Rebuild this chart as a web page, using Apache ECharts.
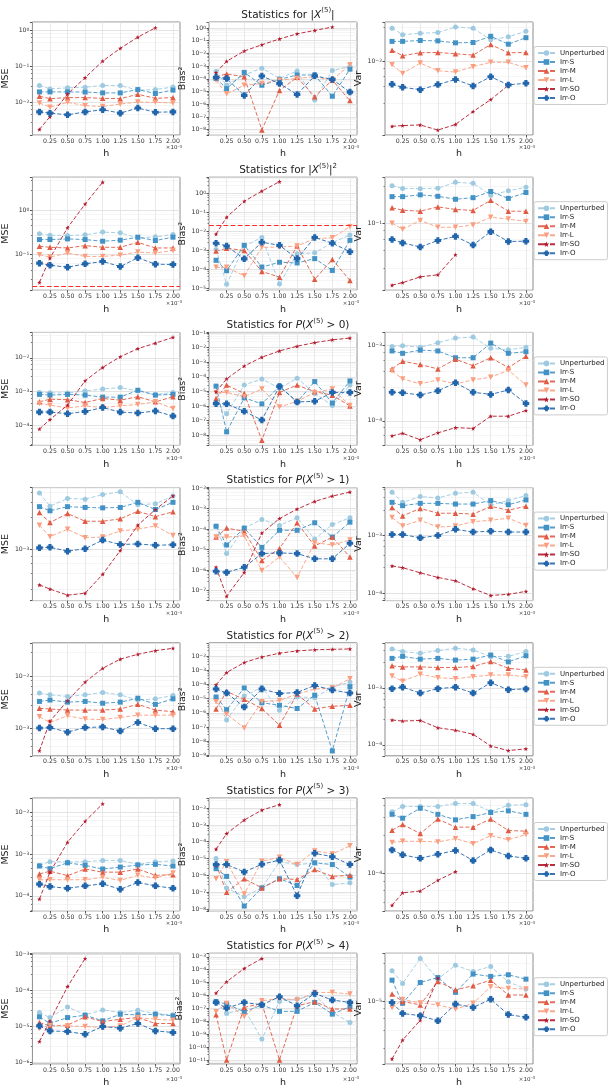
<!DOCTYPE html>
<html>
<head>
<meta charset="utf-8">
<script src="https://cdn.jsdelivr.net/npm/echarts@6/dist/echarts.min.js"></script>
<style>
  html, body { margin: 0; padding: 0; background: #fff; }
  #main { width: 611px; height: 1089px; }
</style>
</head>
<body>
<div id="main"></div>
<script>
// step sizes h (x 1e-3)
var hValues = [0.1, 0.25, 0.5, 0.75, 1.0, 1.25, 1.5, 1.75, 2.0];
var methods = ['Unperturbed', 'Irr-S', 'Irr-M', 'Irr-L', 'Irr-SO', 'Irr-O'];
var xTicks = [0.25, 0.5, 0.75, 1.0, 1.25, 1.5, 1.75, 2.0];

// row titles (rich text)
var rowTitles = [
    'Statistics for |{i|X}{s|(5)}|',
    'Statistics for |{i|X}{s|(5)}|{s|2}',
    'Statistics for {i|P}({i|X}{s|(5)} > 0)',
    'Statistics for {i|P}({i|X}{s|(5)} > 1)',
    'Statistics for {i|P}({i|X}{s|(5)} > 2)',
    'Statistics for {i|P}({i|X}{s|(5)} > 3)',
    'Statistics for {i|P}({i|X}{s|(5)} > 4)'
];

// reference levels (red dashed lines) for MSE and Bias^2 panels
var mseRef = [1.84e-3, 0.0219, 3.7e-5, 3.3e-4, 3.9e-4, 5.4e-5, 1.21e-6];
var biasRef = [1.75e-3, 0.0219, 3.4e-5, 3.4e-4, 4.1e-4, 5.2e-5, 1.14e-6];

// each panel: one list per method, in the order of `methods`
var mse1 = [
    [0.029, 0.0233, 0.0249, 0.026, 0.029, 0.029, 0.0214, 0.0225, 0.0262],
    [0.0192, 0.0192, 0.0192, 0.019, 0.018, 0.018, 0.0223, 0.0173, 0.0215],
    [0.0145, 0.0124, 0.0133, 0.0133, 0.0127, 0.0124, 0.0165, 0.0127, 0.0133],
    [0.0094, 0.0072, 0.0098, 0.0079, 0.0075, 0.0088, 0.010, 0.0098, 0.0094],
    [0.00172, 0.0039, 0.0168, 0.048, 0.139, 0.316, 0.647, 1.19],
    [0.0053, 0.0049, 0.0044, 0.0053, 0.0061, 0.0049, 0.0068, 0.0052, 0.0053]
];
var bias1 = [
    [3.7e-4, 3.1e-5, 2e-4, 6.9e-4, 1.07e-4, 4.2e-4, 2.1e-6, 4.5e-4, 9.4e-4],
    [1.07e-4, 1.66e-5, 3.2e-4, 3.1e-5, 8.9e-5, 2e-4, 2e-4, 4.2e-6, 5.7e-4],
    [1.45e-4, 2.4e-4, 1.45e-4, 9.3e-9, 1.2e-5, 1.3e-4, 3.9e-6, 7.8e-5, 1.9e-6],
    [7.8e-5, 6.5e-6, 3.1e-5, 4.2e-5, 7.8e-5, 1.07e-4, 1.45e-4, 7.8e-5, 1.3e-3],
    [3.1e-4, 2.4e-3, 0.0155, 0.048, 0.138, 0.35, 0.65, 1.2],
    [1.3e-4, 1.07e-4, 4.8e-6, 1.65e-4, 4.2e-5, 5.8e-6, 1.7e-4, 8.9e-5, 8.9e-6]
];
var var1 = [
    [0.0276, 0.0226, 0.0236, 0.0241, 0.0285, 0.0276, 0.0193, 0.0212, 0.0251],
    [0.0184, 0.0184, 0.0189, 0.0187, 0.0176, 0.0178, 0.0215, 0.0169, 0.0206],
    [0.014, 0.0119, 0.013, 0.0131, 0.0126, 0.0121, 0.0167, 0.013, 0.0131],
    [0.009, 0.0069, 0.0095, 0.0075, 0.0072, 0.0085, 0.0097, 0.0097, 0.0082],
    [1.37e-3, 1.4e-3, 1.43e-3, 1.22e-3, 1.45e-3, 2.15e-3, 3.1e-3, 4.8e-3],
    [0.00496, 0.00452, 0.0042, 0.00491, 0.00574, 0.00471, 0.00624, 0.00486, 0.00512]
];

var mse2 = [
    [0.295, 0.275, 0.27, 0.28, 0.322, 0.31, 0.239, 0.252, 0.285],
    [0.219, 0.219, 0.227, 0.219, 0.201, 0.212, 0.248, 0.208, 0.248],
    [0.155, 0.147, 0.142, 0.16, 0.147, 0.147, 0.19, 0.142, 0.142],
    [0.1, 0.0886, 0.109, 0.0917, 0.0917, 0.098, 0.115, 0.109, 0.125],
    [0.0239, 0.084, 0.404, 1.37, 4.25],
    [0.0647, 0.0582, 0.0525, 0.0624, 0.0705, 0.0543, 0.0855, 0.0614, 0.0603]
];
var bias2 = [
    [1.13e-3, 1.64e-5, 1.7e-3, 4.8e-3, 1.7e-5, 6.6e-4, 7.5e-4, 2.6e-3, 6.4e-3],
    [3e-4, 8.5e-5, 1.85e-3, 1.33e-4, 2.37e-4, 2.18e-4, 3.7e-4, 8.8e-5, 3.4e-3],
    [9.2e-4, 1.28e-3, 1e-3, 7.8e-5, 3.9e-5, 1.7e-3, 3e-5, 3.3e-4, 2.6e-5],
    [1.28e-4, 1.28e-4, 4.6e-5, 1.45e-3, 1.5e-3, 1.7e-3, 4.2e-3, 4.6e-3, 0.0178],
    [7.2e-3, 0.056, 0.39, 1.33, 4.2],
    [2.4e-3, 1.7e-3, 3.6e-4, 2.7e-3, 1.85e-3, 3.7e-4, 4.8e-3, 2.4e-3, 8.5e-4]
];
var var2 = [
    [0.287, 0.266, 0.264, 0.268, 0.316, 0.307, 0.22, 0.249, 0.274],
    [0.211, 0.211, 0.222, 0.213, 0.196, 0.205, 0.244, 0.201, 0.237],
    [0.154, 0.144, 0.14, 0.158, 0.147, 0.143, 0.19, 0.14, 0.14],
    [0.1, 0.084, 0.108, 0.089, 0.089, 0.095, 0.118, 0.112, 0.105],
    [0.0174, 0.0187, 0.022, 0.0233, 0.041],
    [0.063, 0.0573, 0.051, 0.0613, 0.0688, 0.054, 0.0787, 0.0596, 0.0601]
];

var mse3 = [
    [9.5e-4, 9.3e-4, 9.1e-4, 1.05e-3, 1.2e-3, 1.32e-3, 1.05e-3, 8.3e-4, 9.5e-4],
    [8.3e-4, 7.9e-4, 8.3e-4, 7.9e-4, 6.9e-4, 6.9e-4, 1.1e-3, 7.9e-4, 8.3e-4],
    [5e-4, 6e-4, 5.8e-4, 4.8e-4, 6.3e-4, 5.6e-4, 7.1e-4, 5e-4, 7.1e-4],
    [4.5e-4, 4e-4, 3.3e-4, 3.8e-4, 3.4e-4, 3.8e-4, 4.2e-4, 5e-4, 3.2e-4],
    [7.9e-5, 1.5e-4, 4e-4, 2.1e-3, 5.2e-3, 0.0107, 0.0186, 0.027, 0.04],
    [2.5e-4, 2.5e-4, 2.24e-4, 2.6e-4, 3.4e-4, 2.5e-4, 2.34e-4, 2.7e-4, 1.9e-4]
];
var bias3 = [
    [1.9e-6, 2.9e-7, 2.7e-5, 7.2e-5, 1.6e-5, 8.1e-5, 7.2e-6, 1.1e-6, 2.7e-5],
    [2.3e-5, 1.7e-8, 3.6e-6, 1.4e-6, 2.3e-5, 1.9e-6, 4.7e-5, 1.6e-6, 5.2e-5],
    [3.2e-6, 2.7e-5, 7.2e-6, 4.5e-9, 8.5e-6, 2.7e-5, 9.5e-6, 5.5e-6, 1e-6],
    [8.5e-6, 8.5e-6, 4.3e-6, 1.45e-5, 8.5e-7, 2.1e-6, 8.5e-6, 1.45e-5, 1.1e-6],
    [9.5e-6, 7.2e-5, 5.5e-4, 2.2e-3, 5.9e-3, 0.0124, 0.022, 0.034, 0.045],
    [1.45e-6, 1.4e-6, 4.3e-7, 1.1e-7, 2.2e-5, 1.9e-6, 2.1e-6, 8.5e-6, 8.5e-6]
];
var var3 = [
    [9.7e-4, 1e-3, 9.5e-4, 1.09e-3, 1.26e-3, 1.3e-3, 9.2e-4, 8.8e-4, 9.5e-4],
    [8.5e-4, 7.9e-4, 8.7e-4, 8.5e-4, 6.9e-4, 6.9e-4, 1.08e-3, 7.9e-4, 8.3e-4],
    [4.9e-4, 6.2e-4, 5.6e-4, 4.9e-4, 6.6e-4, 5.4e-4, 6.9e-4, 5.1e-4, 7.2e-4],
    [4.6e-4, 3.6e-4, 3.1e-4, 3.5e-4, 3.1e-4, 3.5e-4, 3.8e-4, 4.7e-4, 3e-4],
    [6.3e-5, 6.8e-5, 5.6e-5, 6.9e-5, 8.1e-5, 7.9e-5, 1.15e-4, 1.15e-4, 1.37e-4],
    [2.4e-4, 2.36e-4, 2.2e-4, 2.5e-4, 3.2e-4, 2.4e-4, 2.24e-4, 2.57e-4, 1.7e-4]
];

var mse4 = [
    [6.2e-3, 4.07e-3, 5.2e-3, 5.1e-3, 5.9e-3, 6.45e-3, 4.25e-3, 4.4e-3, 5.65e-3],
    [4.0e-3, 3.5e-3, 4.0e-3, 3.9e-3, 3.85e-3, 3.9e-3, 4.6e-3, 3.65e-3, 4.6e-3],
    [3.3e-3, 2.4e-3, 3.2e-3, 2.5e-3, 2.5e-3, 2.7e-3, 3.45e-3, 2.9e-3, 3.4e-3],
    [2.2e-3, 1.52e-3, 1.93e-3, 1.47e-3, 1.5e-3, 1.83e-3, 1.93e-3, 2.15e-3, 1.58e-3],
    [3.2e-4, 2.8e-4, 2.3e-4, 2.45e-4, 4.5e-4, 9.7e-4, 2.2e-3, 3.65e-3, 5.65e-3],
    [1.06e-3, 1.08e-3, 9.5e-4, 1.03e-3, 1.36e-3, 1.18e-3, 1.2e-3, 1.15e-3, 1.17e-3]
];
var bias4 = [
    [1.36e-4, 6.3e-6, 1.1e-4, 2.9e-4, 1.47e-4, 3.5e-4, 3.2e-5, 1.65e-4, 3.5e-4],
    [1.36e-4, 1.65e-5, 1.1e-4, 1.26e-5, 8.6e-5, 8.6e-5, 2e-4, 4e-5, 2.15e-4],
    [4e-5, 1.1e-4, 7.6e-5, 2.9e-6, 1.1e-5, 2e-4, 1.47e-5, 4e-5, 4.3e-6],
    [4e-5, 4e-5, 4.6e-5, 9.3e-7, 4.3e-6, 4.3e-7, 2.15e-5, 1.65e-5, 2.9e-5],
    [1.36e-6, 5.2e-8, 7.6e-7, 6.3e-5, 3.2e-4, 9.3e-4, 2.2e-3, 4e-3, 6.3e-3],
    [8.6e-7, 7.6e-7, 1.36e-6, 6.3e-6, 6.8e-6, 6.3e-6, 3.5e-6, 3.5e-6, 2e-5]
];
var var4 = [
    [5.66e-3, 3.77e-3, 4.74e-3, 4.5e-3, 5.4e-3, 5.66e-3, 3.38e-3, 4.04e-3, 4.94e-3],
    [3.77e-3, 3.3e-3, 3.62e-3, 3.62e-3, 3.52e-3, 3.52e-3, 4.04e-3, 3.43e-3, 4.15e-3],
    [3.08e-3, 2.19e-3, 2.96e-3, 2.44e-3, 2.44e-3, 2.35e-3, 3.21e-3, 2.76e-3, 3.21e-3],
    [2.05e-3, 1.46e-3, 1.84e-3, 1.4e-3, 1.46e-3, 1.74e-3, 1.84e-3, 2e-3, 1.5e-3],
    [2.96e-4, 2.76e-4, 2.25e-4, 1.87e-4, 1.63e-4, 1.19e-4, 9.1e-5, 9.5e-5, 1.07e-4],
    [1.04e-3, 1.04e-3, 9.1e-4, 1e-3, 1.28e-3, 1.15e-3, 1.19e-3, 1.15e-3, 1.15e-3]
];

var mse5 = [
    [4.75e-3, 4.4e-3, 4.1e-3, 4.4e-3, 4.9e-3, 4.4e-3, 3.5e-3, 3.7e-3, 4.3e-3],
    [3.3e-3, 3.5e-3, 3.2e-3, 3.3e-3, 3.05e-3, 3.2e-3, 3.8e-3, 2.9e-3, 3.7e-3],
    [2.44e-3, 2.37e-3, 2.26e-3, 2.26e-3, 2.26e-3, 2.37e-3, 2.9e-3, 2.26e-3, 2.1e-3],
    [1.68e-3, 1.31e-3, 1.76e-3, 1.52e-3, 1.49e-3, 1.63e-3, 1.81e-3, 1.81e-3, 1.81e-3],
    [3.8e-4, 1.39e-3, 3.4e-3, 7.7e-3, 0.0141, 0.021, 0.026, 0.0305, 0.0338],
    [1.03e-3, 1.05e-3, 8.6e-4, 1.05e-3, 1.08e-3, 9e-4, 1.31e-3, 1e-3, 1e-3]
];
var bias5 = [
    [1.18e-5, 3.1e-7, 1.57e-5, 6.4e-5, 1.48e-6, 1.32e-5, 1.18e-5, 6.4e-5, 1.48e-4],
    [1.32e-5, 1.66e-6, 5.7e-5, 5.1e-6, 3.4e-6, 2e-6, 1.75e-5, 2e-9, 7.1e-5],
    [1.85e-6, 3.2e-5, 8.9e-6, 2e-6, 1.3e-7, 2.1e-5, 1.85e-6, 2.9e-6, 3.4e-6],
    [6e-6, 8e-7, 8.5e-8, 6e-6, 7.5e-6, 2.1e-5, 4.8e-5, 5.7e-5, 2.6e-4],
    [9.5e-5, 7.1e-4, 3.6e-3, 8.9e-3, 0.0165, 0.024, 0.029, 0.031, 0.033],
    [4.8e-5, 2.5e-5, 2.6e-6, 4.8e-5, 2.3e-5, 2.75e-5, 8.5e-5, 4.1e-5, 2.5e-5]
];
var var5 = [
    [4.84e-3, 4.34e-3, 4.05e-3, 4.52e-3, 4.97e-3, 4.64e-3, 3.53e-3, 3.58e-3, 4.34e-3],
    [3.3e-3, 3.58e-3, 3.2e-3, 3.3e-3, 3.08e-3, 3.2e-3, 3.78e-3, 2.87e-3, 3.67e-3],
    [2.44e-3, 2.34e-3, 2.34e-3, 2.28e-3, 2.28e-3, 2.37e-3, 2.91e-3, 2.21e-3, 2.07e-3],
    [1.61e-3, 1.31e-3, 1.73e-3, 1.51e-3, 1.45e-3, 1.57e-3, 1.68e-3, 1.68e-3, 1.57e-3],
    [2.72e-4, 2.61e-4, 2.68e-4, 1.99e-4, 1.8e-4, 1.53e-4, 9.5e-5, 7.9e-5, 8.5e-5],
    [9.7e-4, 1.03e-3, 8.1e-4, 9.7e-4, 1.03e-3, 8.1e-4, 1.23e-3, 9.3e-4, 9.6e-4]
];

var mse6 = [
    [5.4e-4, 6.6e-4, 6.5e-4, 6.6e-4, 7.1e-4, 7.1e-4, 5.7e-4, 6.6e-4, 6.9e-4],
    [5.2e-4, 4.5e-4, 6.2e-4, 5.4e-4, 4.4e-4, 4.9e-4, 5.5e-4, 5.7e-4, 5.2e-4],
    [3.35e-4, 3.9e-4, 3.05e-4, 4.4e-4, 3.7e-4, 3.7e-4, 4.4e-4, 3.1e-4, 3.2e-4],
    [2.43e-4, 2.43e-4, 2.43e-4, 2.43e-4, 2.77e-4, 2.34e-4, 3.1e-4, 2.67e-4, 3.54e-4],
    [8.3e-5, 3.7e-4, 1.94e-3, 6.2e-3, 0.0163],
    [1.9e-4, 1.66e-4, 1.51e-4, 1.73e-4, 1.94e-4, 1.43e-4, 2.09e-4, 1.73e-4, 1.51e-4]
];
var bias6 = [
    [1e-5, 1.8e-7, 5.3e-8, 1.8e-7, 6.4e-6, 4.4e-6, 5.6e-6, 2.85e-7, 3.6e-7],
    [2.5e-6, 8.7e-7, 1.5e-8, 1.8e-7, 6.3e-7, 2.5e-7, 5.6e-6, 4.4e-6, 7.9e-7],
    [4.6e-6, 9.8e-8, 6.3e-7, 1.8e-7, 6.3e-7, 5.7e-7, 2.2e-6, 8.7e-7, 1e-6],
    [6.3e-7, 6.4e-6, 7.7e-8, 7e-6, 1.18e-5, 4.4e-6, 2.85e-5, 1.87e-5, 5.7e-5],
    [3.6e-5, 3.05e-4, 1.96e-3, 7.6e-3, 0.016],
    [4.4e-6, 4.4e-6, 1.6e-6, 4.6e-6, 8.1e-6, 6.1e-8, 2.06e-5, 1.29e-5, 4.4e-6]
];
var var6 = [
    [5.35e-4, 6.2e-4, 6.2e-4, 6.2e-4, 6.7e-4, 6.7e-4, 5.4e-4, 6.4e-4, 6.5e-4],
    [5e-4, 4.5e-4, 5.9e-4, 5e-4, 4.3e-4, 4.7e-4, 5.25e-4, 5.5e-4, 5e-4],
    [3.25e-4, 3.8e-4, 2.96e-4, 4.4e-4, 3.53e-4, 3.53e-4, 4.4e-4, 3.22e-4, 3.16e-4],
    [2.33e-4, 2.4e-4, 2.4e-4, 2.36e-4, 2.58e-4, 2.25e-4, 2.8e-4, 2.5e-4, 2.88e-4],
    [4.2e-5, 5.9e-5, 6.2e-5, 8.3e-5, 1.05e-4],
    [1.9e-4, 1.66e-4, 1.51e-4, 1.69e-4, 1.87e-4, 1.42e-4, 1.9e-4, 1.61e-4, 1.51e-4]
];

var mse7 = [
    [2.4e-5, 1.74e-5, 3.44e-5, 2.07e-5, 2.84e-5, 2.4e-5, 2.78e-5, 2.25e-5, 2.07e-5],
    [1.82e-5, 1.19e-5, 1.74e-5, 2.02e-5, 1.41e-5, 2.15e-5, 2.07e-5, 2.15e-5, 1.94e-5],
    [1.27e-5, 1.02e-5, 1.07e-5, 1.82e-5, 1.35e-5, 1.56e-5, 1.74e-5, 1.19e-5, 1.19e-5],
    [8.6e-6, 1.07e-5, 1.02e-5, 9.8e-6, 9.2e-6, 1.02e-5, 1.74e-5, 1.56e-5, 1.47e-5],
    [3.75e-6, 1.4e-5, 1.26e-4, 7.6e-4],
    [1.02e-5, 7.4e-6, 7.1e-6, 6e-6, 9.8e-6, 8.8e-6, 1.19e-5, 7.4e-6, 6.7e-6]
];
var bias7 = [
    [2.9e-7, 4.1e-8, 8.9e-8, 4.2e-10, 3.5e-7, 5.3e-7, 1.08e-6, 4.9e-8, 8.2e-9],
    [3.3e-7, 2.2e-7, 5.5e-8, 1.8e-7, 5.9e-8, 5.9e-8, 2.9e-7, 3.6e-8, 1.35e-7],
    [3.2e-8, 1e-11, 1.2e-7, 2.4e-7, 1e-11, 1.6e-7, 3.3e-7, 8.9e-8, 8.9e-8],
    [5.5e-8, 2.4e-7, 2.4e-8, 3.9e-7, 5.9e-7, 4.4e-7, 1.73e-6, 1.73e-6, 1.29e-6],
    [1.54e-6, 1.16e-5, 1.25e-4, 7.4e-4],
    [2.9e-7, 1.06e-7, 2.9e-7, 1.9e-7, 8e-7, 1.6e-7, 1.45e-6, 4.4e-7, 2.9e-7]
];
var var7 = [
    [2.3e-5, 1.63e-5, 3.2e-5, 1.83e-5, 2.67e-5, 2.25e-5, 2.58e-5, 1.7e-5, 1.4e-5],
    [1.78e-5, 9.5e-6, 1.67e-5, 1.91e-5, 1.28e-5, 2.1e-5, 1.97e-5, 2.06e-5, 1.83e-5],
    [1.22e-5, 1e-5, 9.1e-6, 1.72e-5, 1.37e-5, 1.53e-5, 1.78e-5, 1.19e-5, 1.19e-5],
    [8.4e-6, 1.05e-5, 9.6e-6, 9.1e-6, 8.1e-6, 9.5e-6, 1.49e-5, 1.42e-5, 1.4e-5],
    [2.1e-6, 3.5e-6, 6e-6, 1.88e-5],
    [9.7e-6, 7.2e-6, 6.8e-6, 5.9e-6, 9.3e-6, 8.5e-6, 1.06e-5, 7e-6, 6.5e-6]
];

// y extents per row: [MSE, Bias^2, Var]
var yRanges = [
    [[1.2e-3, 1.72], [3.7e-9, 3.0], [1.05e-3, 0.0333]],
    [[0.016, 5.5], [8e-6, 7.2], [0.0151, 0.365]],
    [[2.6e-5, 0.056], [2e-9, 0.11], [4.7e-5, 1.5e-3]],
    [[1.93e-4, 7.4e-3], [3.2e-8, 0.0104], [7.4e-5, 6.8e-3]],
    [[3.05e-4, 0.043], [9e-10, 0.09], [6.4e-5, 6.2e-3]],
    [[4.3e-5, 0.0225], [7.6e-9, 0.04], [3.6e-5, 7.8e-4]],
    [[8.9e-7, 1.07e-3], [4.9e-12, 1.9e-3], [1.83e-6, 3.7e-5]]
];

var panelRows = [
    [mse1, bias1, var1], [mse2, bias2, var2], [mse3, bias3, var3],
    [mse4, bias4, var4], [mse5, bias5, var5], [mse6, bias6, var6],
    [mse7, bias7, var7]
];
var yNames = ['MSE', 'Bias\u00b2', 'Var'];

// look of the six methods
var colors = ['#9ecae1', '#4292c6', '#e05a44', '#fb9e80', '#b2182b', '#2166ac'];
var symbols = [
    'circle', 'rect', 'triangle', 'triangle',
    'path://M5,0 L6.2,3.6 L10,3.8 L7,6.1 L8.1,9.8 L5,7.6 L1.9,9.8 L3,6.1 L0,3.8 L3.8,3.6 Z',
    'path://M2.6,0H7.4V2.6H10V7.4H7.4V10H2.6V7.4H0V2.6H2.6Z'
];
var symbolSizes = [5, 5, 5.5, 5.5, 4.5, 6.5];
var symbolRotates = [0, 0, 0, 180, 0, 0];

// layout
var colLeft = [32, 209, 385];
var nameGaps = [17, 16, 15];
var gridW = 148;
var gridH = 113;
var rowTop0 = 22;
var rowStep = 155.2;

var supRich = {
    s: {fontSize: 4.5, verticalAlign: 'top', lineHeight: 6, color: '#333', fontFamily: 'DejaVu Sans'}
};

function powLabel(v) {
    var e = Math.log10(v);
    var r = Math.round(e);
    if (Math.abs(e - r) > 1e-4) return '';
    var s = r < 0 ? '\u2212' + (-r) : String(r);
    return '10{s|' + s + '}';
}

var grids = [], xAxes = [], yAxes = [], series = [], legends = [], titles = [], graphics = [];

panelRows.forEach(function (row, r) {
    var top = rowTop0 + r * rowStep;

    titles.push({
        text: rowTitles[r],
        left: colLeft[1] + gridW / 2,
        textAlign: 'center',
        top: top - 20,
        textStyle: {
            fontSize: 10.5, fontWeight: 'normal', color: '#222', fontFamily: 'DejaVu Sans', lineHeight: 16,
            rich: {
                i: {fontSize: 10.5, fontStyle: 'italic', color: '#222', fontFamily: 'DejaVu Sans', lineHeight: 16},
                s: {fontSize: 7, verticalAlign: 'top', lineHeight: 10, color: '#222', fontFamily: 'DejaVu Sans'}
            }
        }
    });

    legends.push({
        data: methods,
        orient: 'vertical',
        left: 534,
        top: top + gridH / 2 - 32,
        itemWidth: 17,
        itemHeight: 7,
        itemGap: 2,
        padding: [3, 3, 3, 3],
        borderColor: '#cccccc',
        borderWidth: 1,
        borderRadius: 2,
        backgroundColor: '#fff',
        textStyle: {fontSize: 7, color: '#222', fontFamily: 'DejaVu Sans'}
    });

    row.forEach(function (panel, c) {
        var idx = grids.length;
        grids.push({
            left: colLeft[c], top: top, width: gridW, height: gridH,
            show: true, borderColor: '#8c8c8c', borderWidth: 1, backgroundColor: '#fff'
        });
        xAxes.push({
            type: 'value', gridIndex: idx, min: 0, max: 2.1, interval: 0.25,
            axisLine: {show: false},
            axisTick: {show: true, length: 2.5, customValues: xTicks, lineStyle: {color: '#555'}},
            axisLabel: {
                fontSize: 6.2, color: '#333', margin: 3, fontFamily: 'DejaVu Sans', customValues: xTicks,
                formatter: function (v) { return (v > 0.01 && v < 2.05) ? v.toFixed(2) : ''; }
            },
            splitLine: {show: true, lineStyle: {color: '#e3e3e3', width: 0.8}},
            name: 'h', nameLocation: 'middle', nameGap: 14,
            nameTextStyle: {fontSize: 9.5, color: '#222', fontFamily: 'DejaVu Sans'}
        });
        yAxes.push({
            type: 'log', logBase: 10, gridIndex: idx,
            min: yRanges[r][c][0], max: yRanges[r][c][1],
            axisLine: {show: false},
            axisTick: {show: true, length: 2.5, lineStyle: {color: '#555'}},
            minorTick: {show: true, splitNumber: 5, length: 1.5, lineStyle: {color: '#777'}},
            minorSplitLine: {show: true, lineStyle: {color: '#efefef', width: 0.6}},
            axisLabel: {
                fontSize: 6.2, color: '#333', margin: 3, fontFamily: 'DejaVu Sans',
                formatter: powLabel, rich: supRich
            },
            splitLine: {show: true, lineStyle: {color: '#dcdcdc', width: 0.8}},
            name: yNames[c], nameLocation: 'middle', nameGap: nameGaps[c],
            nameTextStyle: {fontSize: 9.5, color: '#222', fontFamily: 'DejaVu Sans'}
        });

        graphics.push({
            type: 'text',
            x: colLeft[c] + gridW + 2,
            y: top + gridH + 10,
            style: {
                text: '\u00d710{s|\u22123}', align: 'right', verticalAlign: 'top',
                fontSize: 5.5, fill: '#333', fontFamily: 'DejaVu Sans',
                rich: {s: {fontSize: 4, verticalAlign: 'top', lineHeight: 5, fill: '#333'}}
            }
        });

        methods.forEach(function (m, k) {
            var vals = panel[k];
            var s = {
                name: m, type: 'line',
                xAxisIndex: idx, yAxisIndex: idx,
                data: vals.map(function (v, i) { return [hValues[i], v]; }),
                symbol: symbols[k], symbolSize: symbolSizes[k], symbolRotate: symbolRotates[k],
                showAllSymbol: true,
                lineStyle: {type: 'dashed', width: 1, color: colors[k], opacity: 0.9},
                itemStyle: {color: colors[k]},
                animation: false
            };
            if (k === 4 && c < 2) {
                s.markLine = {
                    silent: true, symbol: 'none', animation: false,
                    label: {show: false},
                    lineStyle: {color: '#ff2a2a', type: 'dashed', width: 1.2},
                    data: [{yAxis: c === 0 ? mseRef[r] : biasRef[r]}]
                };
            }
            series.push(s);
        });
    });
});

var myChart = echarts.init(document.getElementById('main'), null, {renderer: 'canvas'});
myChart.setOption({
    animation: false,
    backgroundColor: '#fff',
    textStyle: {fontFamily: 'DejaVu Sans'},
    title: titles,
    legend: legends,
    grid: grids,
    xAxis: xAxes,
    yAxis: yAxes,
    series: series,
    graphic: graphics
});
</script>
</body>
</html>
